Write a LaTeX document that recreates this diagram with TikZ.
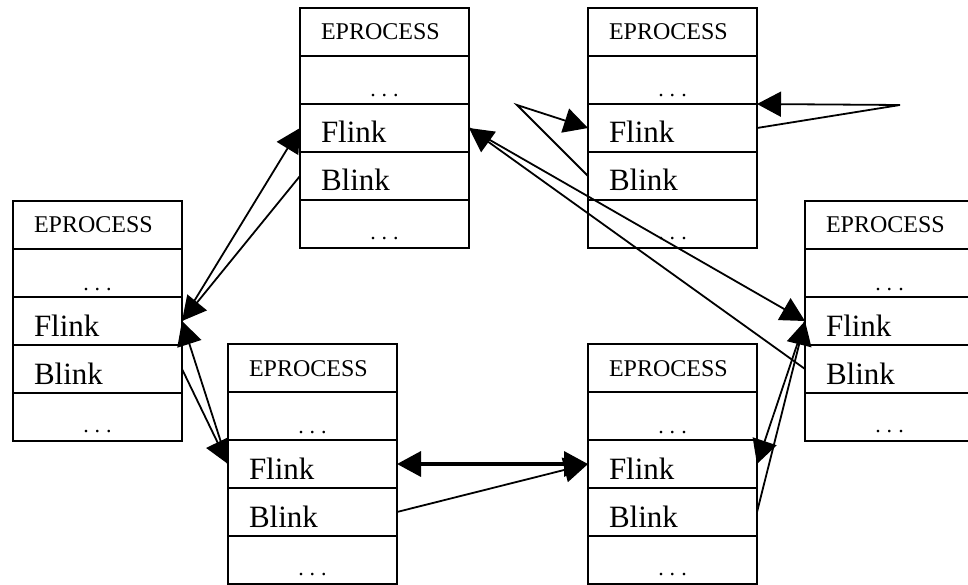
\documentclass[tikz,border=0pt]{standalone}
\usepackage{fontspec}
\setmainfont{Liberation Serif}
\usetikzlibrary{arrows.meta}
\usetikzlibrary{positioning}

\newcommand{\spdots}{.\kern6pt.\kern6pt.}
\tikzset{
  cell/.style={draw, line width=2.2pt, minimum width=169pt, minimum height=48pt,
    inner sep=0pt, inner xsep=21pt, outer sep=0pt, text width=127pt, align=left, text depth=0pt},
  head/.style={cell, font=\fontsize{24}{24}\selectfont, text height=16pt},
  gap/.style={cell, align=center, font=\fontsize{22}{22}\selectfont, text height=34pt},
  lastgap/.style={gap, text height=31pt},
  field/.style={cell, font=\fontsize{31}{31}\selectfont, text height=30pt},
  link/.style={line width=1.8pt, -{Triangle[length=24pt,width=25pt]}},
}

\begin{document}
\begin{tikzpicture}[x=1pt,y=-1pt]
    \useasboundingbox (0,0) rectangle (968,585);
    % the six EPROCESS blocks
    \foreach \n/\x/\y in {A/300/8, B/588/8, C/13/201, D/805/201, E/228/344, F/588/344} {
        \node[head, anchor=north west] (\n-0) at (\x,\y) {EPROCESS};
        \node[gap, below=0pt of \n-0] (\n-1) {\spdots};
        \node[field, below=0pt of \n-1] (\n-2) {Flink};
        \node[field, below=0pt of \n-2] (\n-3) {Blink};
        \node[lastgap, below=0pt of \n-3] (\n-4) {\spdots};
    }
    % list links
    \draw[link] (C-2.east) -- (A-2.west);
    \draw[link] (A-3.west) -- (C-2.east);
    \draw[link] (E-2.west) -- (C-2.east);
    \draw[link] (C-3.east) -- (E-2.west);
    \draw[link] (A-2.east) -- (D-2.west);
    \draw[link] (D-3.west) -- (A-2.east);
    \draw[link] (D-2.west) -- (F-2.east);
    \draw[link] (F-3.east) -- (D-2.west);
    \draw[link, line width=3.5pt, {Triangle[length=24pt,width=25pt]}-{Triangle[length=24pt,width=25pt]}] (E-2.east) -- (F-2.west);
    \draw[link] (E-3.east) -- (F-2.west);
    % the unlinked block points to itself
    \coordinate (loopL) at (517,105);
    \coordinate (loopR) at (900,105);
    \draw[link] (B-3.west) -- (loopL) -- (B-2.west);
    \draw[link] (B-2.east) -- (loopR) -- (B-1.south east);
\end{tikzpicture}
\end{document}
